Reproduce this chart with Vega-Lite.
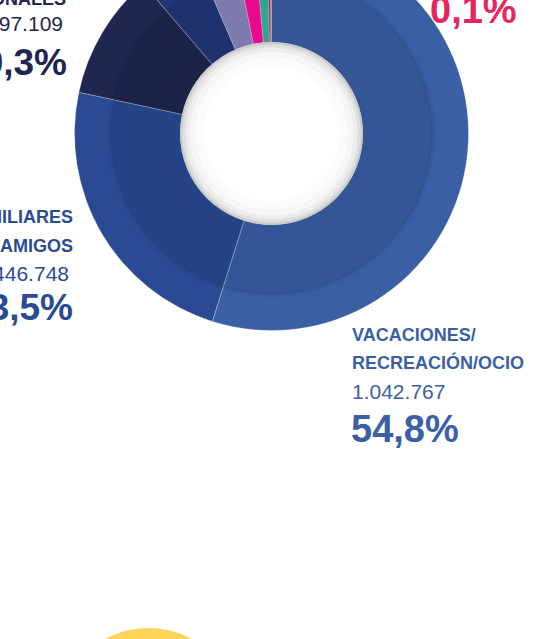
{
  "$schema": "https://vega.github.io/schema/vega-lite/v6.json",
  "width": 557,
  "height": 639,
  "autosize": {"type": "none"},
  "padding": 0,
  "background": "white",
  "config": {"view": {"stroke": null}, "text": {"font": "Liberation Sans"}},
  "datasets": {
    "segmentos": [
      {"categoria": "Vacaciones/Recreación/Ocio", "viajeros": 1042767, "orden": 1},
      {"categoria": "Familiares y amigos", "viajeros": 446748, "orden": 2},
      {"categoria": "Profesionales", "viajeros": 197109, "orden": 3},
      {"categoria": "Segmento 4", "viajeros": 91300, "orden": 4},
      {"categoria": "Segmento 5", "viajeros": 62800, "orden": 5},
      {"categoria": "Segmento 6", "viajeros": 33300, "orden": 6},
      {"categoria": "Segmento 7", "viajeros": 20000, "orden": 7},
      {"categoria": "Segmento 8", "viajeros": 5000, "orden": 8},
      {"categoria": "Segmento 9", "viajeros": 1900, "orden": 9}
    ],
    "etiquetas": [
      {"categoria": "Vacaciones/Recreación/Ocio", "texto": "VACACIONES/", "tipo": "titulo", "ancla": "inicio", "px": 352, "py": 341},
      {"categoria": "Vacaciones/Recreación/Ocio", "texto": "RECREACIÓN/OCIO", "tipo": "titulo", "ancla": "inicio", "px": 352, "py": 369},
      {"categoria": "Vacaciones/Recreación/Ocio", "texto": "1.042.767", "tipo": "numero", "ancla": "inicio", "px": 352, "py": 399},
      {"categoria": "Vacaciones/Recreación/Ocio", "texto": "54,8%", "tipo": "pct", "ancla": "inicio", "px": 351, "py": 442},
      {"categoria": "Familiares y amigos", "texto": "FAMILIARES", "tipo": "titulo", "ancla": "fin", "px": 73, "py": 223},
      {"categoria": "Familiares y amigos", "texto": "Y AMIGOS", "tipo": "titulo", "ancla": "fin", "px": 73, "py": 252},
      {"categoria": "Familiares y amigos", "texto": "446.748", "tipo": "numero", "ancla": "fin", "px": 69, "py": 281},
      {"categoria": "Familiares y amigos", "texto": "23,5%", "tipo": "pct", "ancla": "fin", "px": 73, "py": 320},
      {"categoria": "Profesionales", "texto": "PROFESIONALES", "tipo": "titulo", "ancla": "fin", "px": 66, "py": 5},
      {"categoria": "Profesionales", "texto": "197.109", "tipo": "numero", "ancla": "fin", "px": 63, "py": 31},
      {"categoria": "Profesionales", "texto": "10,3%", "tipo": "pct", "ancla": "fin", "px": 67, "py": 75},
      {"categoria": "Segmento 9", "texto": "0,1%", "tipo": "pct", "ancla": "inicio", "px": 430, "py": 23}
    ]
  },
  "layer": [
    {
      "data": {"values": [{"forma": "círculo amarillo", "cx": 148.5, "cy": 719.5}]},
      "mark": {"type": "arc", "theta": 0, "theta2": 6.2832, "radius": 91.5, "radius2": 0, "color": "#FFD45A"},
      "encoding": {
        "x": {"field": "cx", "type": "quantitative", "scale": {"domain": [0, 557], "nice": false, "zero": false}, "axis": null},
        "y": {"field": "cy", "type": "quantitative", "scale": {"domain": [0, 639], "nice": false, "zero": false, "reverse": true}, "axis": null}
      }
    },
    {
      "data": {"name": "segmentos"},
      "mark": {"type": "arc", "radius": 197, "radius2": 91, "stroke": "white", "strokeWidth": 0.6, "strokeOpacity": 0.45},
      "encoding": {
        "theta": {"field": "viajeros", "type": "quantitative", "stack": true},
        "order": {"field": "orden", "type": "quantitative"},
        "color": {
          "field": "categoria", "type": "nominal", "legend": null,
          "scale": {
            "domain": ["Vacaciones/Recreación/Ocio", "Familiares y amigos", "Profesionales", "Segmento 4", "Segmento 5", "Segmento 6", "Segmento 7", "Segmento 8", "Segmento 9"],
            "range": ["#3A5FA5", "#2A4B93", "#1F2650", "#22377A", "#8A88C0", "#FF0A9C", "#30B89E", "#8E3A6A", "#E8245F"]
          }
        },
        "x": {"datum": 271.5, "type": "quantitative", "scale": {"domain": [0, 557], "nice": false, "zero": false}, "axis": null},
        "y": {"datum": 133.5, "type": "quantitative", "scale": {"domain": [0, 639], "nice": false, "zero": false, "reverse": true}, "axis": null}
      }
    },
    {
      "data": {"values": [
        {"anillo": "sombra interior", "r1": 161, "r2": 91, "op": 0.09},
        {"anillo": "borde sombra", "r1": 164, "r2": 159, "op": 0.04}
      ]},
      "mark": {"type": "arc", "theta": 0, "theta2": 6.2832, "color": "#000000"},
      "encoding": {
        "radius": {"field": "r1", "type": "quantitative", "scale": null},
        "radius2": {"field": "r2"},
        "opacity": {"field": "op", "type": "quantitative", "scale": null},
        "x": {"datum": 271.5, "type": "quantitative", "scale": {"domain": [0, 557], "nice": false, "zero": false}, "axis": null},
        "y": {"datum": 133.5, "type": "quantitative", "scale": {"domain": [0, 639], "nice": false, "zero": false, "reverse": true}, "axis": null}
      }
    },
    {
      "data": {"values": [{"forma": "centro"}]},
      "mark": {"type": "arc", "theta": 0, "theta2": 6.2832, "radius": 91.5, "radius2": 0, "color": "#FFFFFF"},
      "encoding": {
        "x": {"datum": 271.5, "type": "quantitative", "scale": {"domain": [0, 557], "nice": false, "zero": false}, "axis": null},
        "y": {"datum": 133.5, "type": "quantitative", "scale": {"domain": [0, 639], "nice": false, "zero": false, "reverse": true}, "axis": null}
      }
    },
    {
      "data": {"values": [
        {"anillo": "v1", "r1": 91.5, "r2": 89, "op": 0.2},
        {"anillo": "v2", "r1": 89, "r2": 86, "op": 0.12},
        {"anillo": "v3", "r1": 86, "r2": 82, "op": 0.07},
        {"anillo": "v4", "r1": 82, "r2": 76, "op": 0.035},
        {"anillo": "v5", "r1": 76, "r2": 68, "op": 0.015}
      ]},
      "mark": {"type": "arc", "theta": 0, "theta2": 6.2832, "color": "#000000"},
      "encoding": {
        "radius": {"field": "r1", "type": "quantitative", "scale": null},
        "radius2": {"field": "r2"},
        "opacity": {"field": "op", "type": "quantitative", "scale": null},
        "x": {"datum": 271.5, "type": "quantitative", "scale": {"domain": [0, 557], "nice": false, "zero": false}, "axis": null},
        "y": {"datum": 133.5, "type": "quantitative", "scale": {"domain": [0, 639], "nice": false, "zero": false, "reverse": true}, "axis": null}
      }
    },
    {
      "data": {"name": "etiquetas"},
      "transform": [{"filter": "datum.tipo === 'titulo' && datum.ancla === 'inicio'"}],
      "mark": {"type": "text", "align": "left", "baseline": "alphabetic", "font": "Liberation Sans", "fontWeight": "bold", "fontSize": 18},
      "encoding": {
        "text": {"field": "texto"},
        "color": {"field": "categoria", "type": "nominal", "legend": null},
        "x": {"field": "px", "type": "quantitative", "scale": {"domain": [0, 557], "nice": false, "zero": false}, "axis": null},
        "y": {"field": "py", "type": "quantitative", "scale": {"domain": [0, 639], "nice": false, "zero": false, "reverse": true}, "axis": null}
      }
    },
    {
      "data": {"name": "etiquetas"},
      "transform": [{"filter": "datum.tipo === 'titulo' && datum.ancla === 'fin'"}],
      "mark": {"type": "text", "align": "right", "baseline": "alphabetic", "font": "Liberation Sans", "fontWeight": "bold", "fontSize": 18},
      "encoding": {
        "text": {"field": "texto"},
        "color": {"field": "categoria", "type": "nominal", "legend": null},
        "x": {"field": "px", "type": "quantitative", "scale": {"domain": [0, 557], "nice": false, "zero": false}, "axis": null},
        "y": {"field": "py", "type": "quantitative", "scale": {"domain": [0, 639], "nice": false, "zero": false, "reverse": true}, "axis": null}
      }
    },
    {
      "data": {"name": "etiquetas"},
      "transform": [{"filter": "datum.tipo === 'numero' && datum.ancla === 'inicio'"}],
      "mark": {"type": "text", "align": "left", "baseline": "alphabetic", "font": "Liberation Sans", "fontWeight": "normal", "fontSize": 21},
      "encoding": {
        "text": {"field": "texto"},
        "color": {"field": "categoria", "type": "nominal", "legend": null},
        "x": {"field": "px", "type": "quantitative", "scale": {"domain": [0, 557], "nice": false, "zero": false}, "axis": null},
        "y": {"field": "py", "type": "quantitative", "scale": {"domain": [0, 639], "nice": false, "zero": false, "reverse": true}, "axis": null}
      }
    },
    {
      "data": {"name": "etiquetas"},
      "transform": [{"filter": "datum.tipo === 'numero' && datum.ancla === 'fin'"}],
      "mark": {"type": "text", "align": "right", "baseline": "alphabetic", "font": "Liberation Sans", "fontWeight": "normal", "fontSize": 21},
      "encoding": {
        "text": {"field": "texto"},
        "color": {"field": "categoria", "type": "nominal", "legend": null},
        "x": {"field": "px", "type": "quantitative", "scale": {"domain": [0, 557], "nice": false, "zero": false}, "axis": null},
        "y": {"field": "py", "type": "quantitative", "scale": {"domain": [0, 639], "nice": false, "zero": false, "reverse": true}, "axis": null}
      }
    },
    {
      "data": {"name": "etiquetas"},
      "transform": [{"filter": "datum.tipo === 'pct' && datum.ancla === 'inicio'"}],
      "mark": {"type": "text", "align": "left", "baseline": "alphabetic", "font": "Liberation Sans", "fontWeight": "bold", "fontSize": 38},
      "encoding": {
        "text": {"field": "texto"},
        "color": {"field": "categoria", "type": "nominal", "legend": null},
        "x": {"field": "px", "type": "quantitative", "scale": {"domain": [0, 557], "nice": false, "zero": false}, "axis": null},
        "y": {"field": "py", "type": "quantitative", "scale": {"domain": [0, 639], "nice": false, "zero": false, "reverse": true}, "axis": null}
      }
    },
    {
      "data": {"name": "etiquetas"},
      "transform": [{"filter": "datum.tipo === 'pct' && datum.ancla === 'fin'"}],
      "mark": {"type": "text", "align": "right", "baseline": "alphabetic", "font": "Liberation Sans", "fontWeight": "bold", "fontSize": 37},
      "encoding": {
        "text": {"field": "texto"},
        "color": {"field": "categoria", "type": "nominal", "legend": null},
        "x": {"field": "px", "type": "quantitative", "scale": {"domain": [0, 557], "nice": false, "zero": false}, "axis": null},
        "y": {"field": "py", "type": "quantitative", "scale": {"domain": [0, 639], "nice": false, "zero": false, "reverse": true}, "axis": null}
      }
    }
  ]
}
